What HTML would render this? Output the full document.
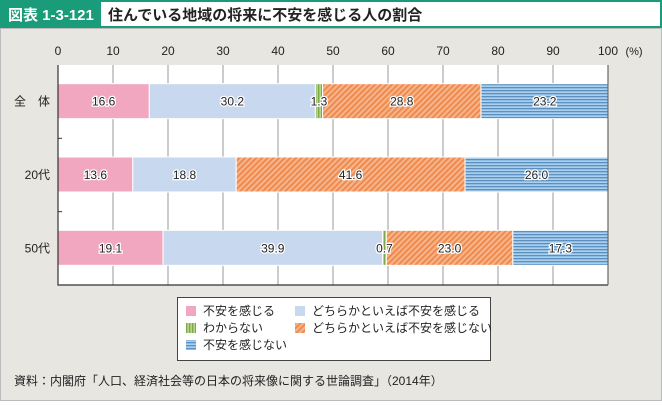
<!DOCTYPE html>
<html><head><meta charset="utf-8"><style>
body{margin:0;width:662px;height:401px;overflow:hidden;background:#fff;font-family:"Liberation Sans","Noto Sans CJK JP",sans-serif}
</style></head><body>
<svg width="662" height="401" viewBox="0 0 662 401" xmlns="http://www.w3.org/2000/svg" font-family="Liberation Sans, Noto Sans CJK JP, sans-serif">
<defs>
<pattern id="pOr" width="4" height="4" patternUnits="userSpaceOnUse" patternTransform="rotate(45)"><rect width="4" height="4" fill="#f7b58c"/><rect width="2" height="4" fill="#ef8a4e"/></pattern>
<pattern id="pBl" width="4" height="3" patternUnits="userSpaceOnUse"><rect width="4" height="3" fill="#a9d0ef"/><rect width="4" height="1.3" fill="#5a8fc0"/></pattern>
<pattern id="pGr" width="3" height="4" patternUnits="userSpaceOnUse"><rect width="3" height="4" fill="#b7d48a"/><rect width="1.3" height="4" fill="#7aa84a"/></pattern>
</defs>
<rect x="0" y="0" width="662" height="401" fill="#e8e6e1"/>
<rect x="0" y="0" width="662" height="28" fill="#fff"/>
<rect x="1" y="1" width="660" height="26" fill="#fff" stroke="#1a9b7a" stroke-width="2"/>
<rect x="0" y="0" width="101" height="28" fill="#1a9b7a"/>
<text x="8" y="20" font-size="15" font-weight="bold" fill="#fff">図表 1-3-121</text>
<text x="108" y="20" font-size="15" font-weight="bold" fill="#222">住んでいる地域の将来に不安を感じる人の割合</text>
<rect x="0.5" y="28.5" width="661" height="372" fill="none" stroke="#bbb"/>
<g id="chart"></g>
<rect x="177.5" y="297.5" width="313" height="63" fill="#fff" stroke="#444"/>
<g font-size="12" fill="#222">
<rect x="186" y="306" width="10" height="10" fill="#f2a7c1"/><text x="203" y="315">不安を感じる</text>
<rect x="295" y="306" width="10" height="10" fill="#c8d9ef"/><text x="312" y="315">どちらかといえば不安を感じる</text>
<rect x="186" y="323" width="10" height="10" fill="url(#pGr)"/><text x="203" y="332">わからない</text>
<rect x="295" y="323" width="10" height="10" fill="url(#pOr)"/><text x="312" y="332">どちらかといえば不安を感じない</text>
<rect x="186" y="340" width="10" height="10" fill="url(#pBl)"/><text x="203" y="349">不安を感じない</text>
</g>
<text x="14" y="385" font-size="12" fill="#222">資料：内閣府「人口、経済社会等の日本の将来像に関する世論調査」（2014年）</text>
</svg>
<script>
const categories=["全　体","20代","50代"];
const seriesNames=["不安を感じる","どちらかといえば不安を感じる","わからない","どちらかといえば不安を感じない","不安を感じない"];
const anxious=[16.6,13.6,19.1];
const somewhatAnxious=[30.2,18.8,39.9];
const unknown=[1.3,0,0.7];
const somewhatNot=[28.8,41.6,23.0];
const notAnxious=[23.2,26.0,17.3];
const ticks=[0,10,20,30,40,50,60,70,80,90,100];
const series=[anxious,somewhatAnxious,unknown,somewhatNot,notAnxious];
const fills=["#f2a7c1","#c8d9ef","url(#pGr)","url(#pOr)","url(#pBl)"];
const keys=["anxious","somewhat-anxious","unknown","somewhat-not","not-anxious"];
const X0=58,X1=608,Y0=65,Y1=285;
const x=v=>X0+(X1-X0)*v/100;
const band=(Y1-Y0)/categories.length;
const yc=i=>Y0+band*i+band/2-0.5;
const NS="http://www.w3.org/2000/svg";
const g=document.getElementById('chart');
function mk(t,a,p){const e=document.createElementNS(NS,t);for(const k in a)e.setAttribute(k,a[k]);(p||g).appendChild(e);return e;}
const plot=mk('rect',{x:X0,y:Y0,width:X1-X0,height:Y1-Y0,fill:'#fff'});


ticks.forEach(t=>{
 if(t>0&&t<100){const l=mk('line',{x1:x(t),x2:x(t),y1:Y0,y2:Y1,stroke:'#999','stroke-width':1});
 
 }
 const tx=mk('text',{x:x(t),y:55,'font-size':12,'text-anchor':'middle',fill:'#222'});tx.textContent=t;
 
 
});
const unit=mk('text',{x:634,y:55,'font-size':11,'text-anchor':'middle',fill:'#222'});unit.textContent='(%)';


categories.forEach((c,i)=>{
 let acc=0;const h=35,y=yc(i)-h/2;
 series.forEach((s,j)=>{
  const v=s[i];if(v<=0)return;
  const r=mk('rect',{x:x(acc),y:y,width:x(acc+v)-x(acc),height:h,fill:fills[j],stroke:'#fff','stroke-width':1});
  
  
  acc+=v;
 });
 acc=0;
 series.forEach((s,j)=>{
  const v=s[i];if(v<=0)return;
  const t=mk('text',{x:x(acc+v/2),y:yc(i)+4.5,'font-size':12,'text-anchor':'middle',fill:'#222',stroke:'#fff','stroke-width':2.5,'paint-order':'stroke'});
  t.textContent=v.toFixed(1);
  
  
  acc+=v;
 });
 const cl=mk('text',{x:50,y:yc(i)+4.5,'font-size':12,'text-anchor':'end',fill:'#222'});cl.textContent=categories[i];
 
 
 if(i>0){const tk=mk('line',{x1:X0,x2:X0+4,y1:Y0+band*i,y2:Y0+band*i,stroke:'#333'});
 
 }
});
const ax=mk('path',{d:`M${X0},${Y0}V${Y1}H${X1}`,fill:'none',stroke:'#333','stroke-width':1.2});


const rl=mk('line',{x1:X1,x2:X1,y1:Y0,y2:Y1,stroke:'#666','stroke-width':1.2});


</script>
</body></html>
